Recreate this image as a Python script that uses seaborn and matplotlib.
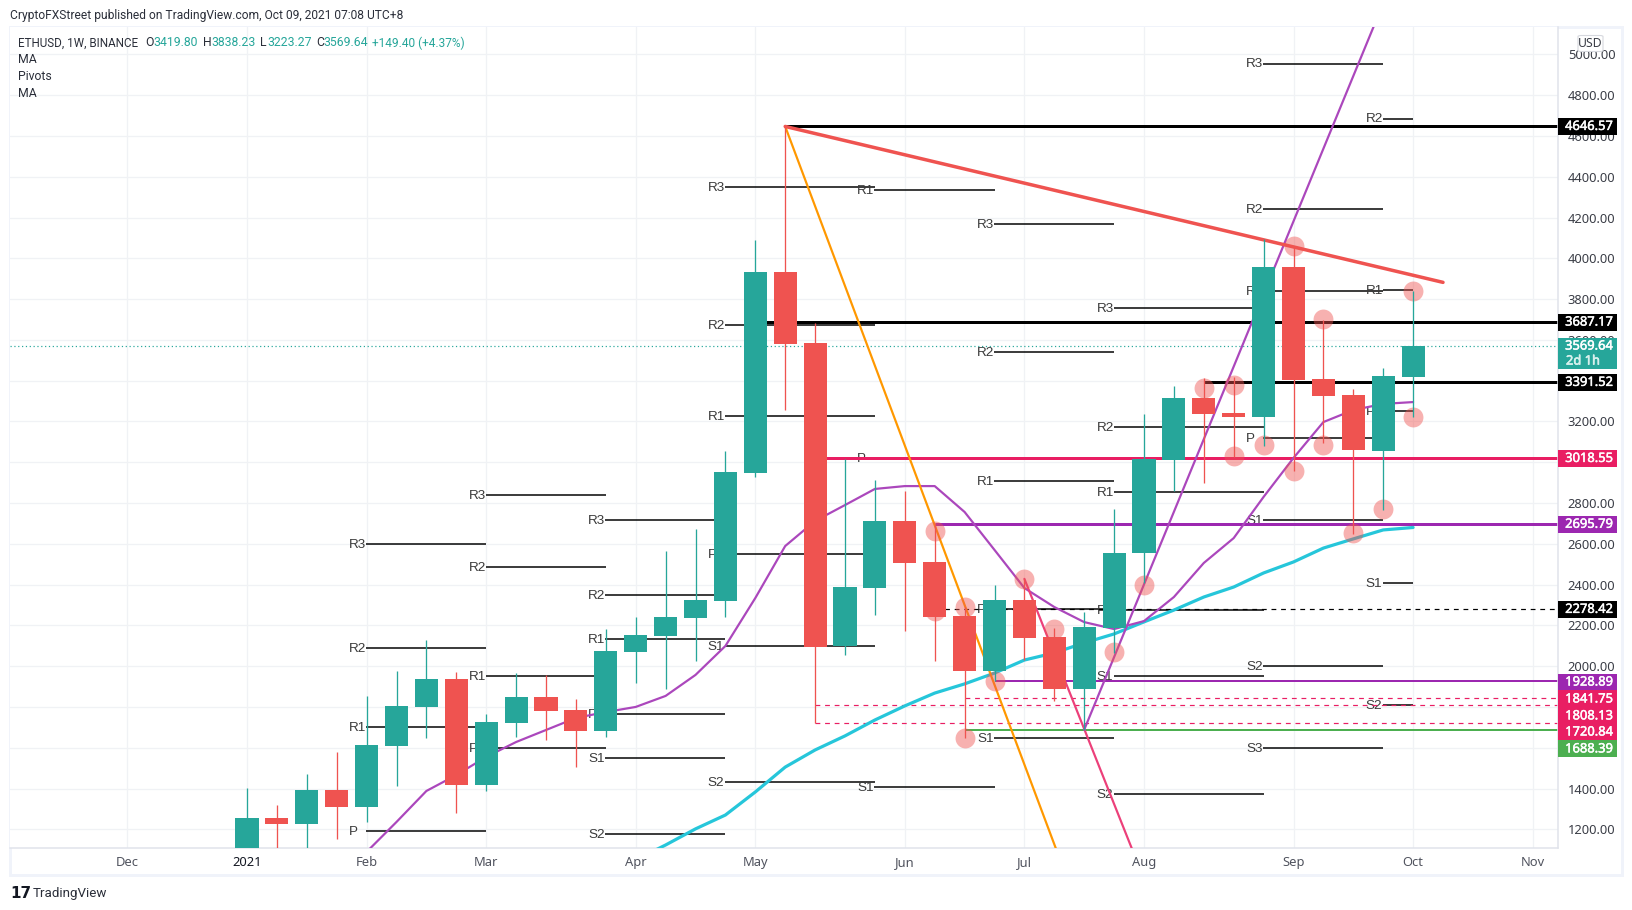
import matplotlib
matplotlib.use("Agg")
import matplotlib.pyplot as plt
import matplotlib.patheffects as pe
from matplotlib.patches import Rectangle, FancyBboxPatch
from matplotlib.transforms import blended_transform_factory
import numpy as np
import pandas as pd
import seaborn as sns

# ---- candle values (weekly, 2021) ----
opens = [975, 1255, 1226, 1393, 1309, 1608, 1800, 1937, 1417, 1721, 1849, 1785, 1682, 2069, 2148, 2236, 2320, 2947, 3933, 3585,
         2099, 2383, 2712, 2511, 2246, 1976, 2324, 2143, 1888, 2187, 2555, 3011, 3315, 3241, 3222, 3957, 3408, 3330, 3055, 3419.80]
closes = [1255, 1226, 1393, 1309, 1613, 1805, 1937, 1417, 1726, 1849, 1780, 1682, 2074, 2153, 2241, 2324, 2952, 3933, 3580, 2094,
          2388, 2712, 2506, 2241, 1976, 2324, 2138, 1888, 2192, 2555, 3016, 3315, 3236, 3222, 3957, 3403, 3325, 3060, 3423, 3569.64]
highs = [1401, 1319, 1471, 1579, 1854, 1976, 2128, 1971, 1765, 1966, 1957, 1839, 2182, 2241, 2565, 2673, 3055, 4090, 4645, 3683,
         3016, 2913, 2859, 2702, 2290, 2398, 2428, 2187, 2266, 2771, 3236, 3374, 3413, 3418, 4095, 4055, 3697, 3359, 3462, 3838.23]
lows = [890, 1050, 1070, 1152, 1236, 1412, 1648, 1280, 1388, 1653, 1638, 1505, 1653, 1918, 1888, 2025, 2241, 2928, 3256, 1721,
        2055, 2251, 2172, 2025, 1648, 1927, 2030, 1829, 1688, 2064, 2408, 2859, 2898, 3026, 3080, 2957, 3094, 2648, 2766, 3223.27]

# ---- moving averages ----
ma_short_weeks = list(range(4, 40))
ma_short = [1089, 1236, 1388, 1466, 1555, 1628, 1687, 1746, 1775, 1800, 1854, 1957, 2099, 2334, 2589, 2712, 2790, 2869, 2883, 2883,
            2756, 2570, 2383, 2290, 2216, 2182, 2221, 2339, 2506, 2628, 2830, 3021, 3197, 3256, 3286, 3295]
ma_long_weeks = list(range(13, 40))
ma_long = [1050, 1123, 1202, 1270, 1383, 1505, 1589, 1658, 1736, 1805, 1868, 1913, 1966, 2030, 2065, 2114, 2158, 2217, 2275, 2339, 2388,
           2457, 2511, 2579, 2624, 2668, 2680]

# ---- horizontal levels: price, first week, colour, width (px), dashed ----
level_prices = [4646.57, 3687.17, 3391.52, 3018.55, 2695.79, 2278.42, 1928.89, 1841.75, 1808.13, 1720.84, 1688.39]
level_starts = [18, 17, 32, 19, 23, 23, 25, 24, 19, 19, 24]
level_colors = ["#000000", "#000000", "#000000", "#E91E63", "#9C27B0", "#000000", "#9C27B0", "#E91E63", "#E91E63", "#E91E63", "#4CAF50"]
level_widths = [3, 3, 3, 3, 3, 1.2, 2, 1.2, 1.2, 1.2, 2]
level_dashed = [False, False, False, False, False, True, False, True, True, True, False]
# the scale stacks crowded tags, so a tag can sit away from its level
tag_positions = [4646.57, 3687.17, 3391.52, 3018.55, 2695.79, 2278.42, 1922, 1839, 1756, 1677, 1594]

# ---- trend lines ----
trend_orange_w, trend_orange_p = [18, 27.5], [4646.57, 931]
trend_red_w, trend_red_p = [18, 40], [4646.57, 3882]
trend_pink_w, trend_pink_p = [26, 30], [2428, 956]
trend_purple_w, trend_purple_p = [28, 38], [1688.39, 5250]

# ---- highlighted extremes ----
circle_weeks = [35, 39, 36, 32, 33, 39, 34, 36, 33, 35, 38, 37, 30, 29, 27, 26, 25, 24, 24, 23, 23]
circle_prices = [4060, 3840, 3702, 3364, 3379, 3222, 3084, 3084, 3030, 2957, 2771, 2653, 2398, 2070, 2182, 2428, 1927, 2290, 1648, 2663, 2270]

# ---- pivot blocks: first week, last week, labels, prices ----
pivot_blocks = [
    (4, 8, ["R3", "R2", "R1", "P"], [2599, 2089, 1702, 1192]),
    (8, 12, ["R3", "R2", "R1", "P"], [2839, 2486, 1952, 1599]),
    (12, 16, ["R3", "R2", "R1", "P", "S1", "S2"], [2717, 2349, 2133, 1765, 1550, 1177]),
    (16, 21, ["R3", "R2", "R1", "P", "S1", "S2"], [4350, 3673, 3227, 2550, 2099, 1432]),
    (21, 25, ["R1", "P", "S1"], [4335, 3021, 1407]),
    (25, 29, ["R3", "R2", "R1", "P", "S1"], [4168, 3540, 2908, 2280, 1648]),
    (29, 34, ["R3", "R2", "R1", "P", "S1", "S2"], [3756, 3173, 2854, 2275, 1952, 1373]),
    (34, 38, ["R3", "R2", "R1", "P", "S1", "S2", "S3"], [4955, 4242, 3840, 3119, 2717, 2001, 1599]),
    (38, 39, ["R2", "R1", "P", "S1", "S2"], [4685, 3845, 3251, 2408, 1810]),
]

# ---- axes ----
month_weeks = [-4, 0, 4, 8, 13, 17, 22, 26, 30, 35, 39, 43]
month_labels = ["Dec", "2021", "Feb", "Mar", "Apr", "May", "Jun", "Jul", "Aug", "Sep", "Oct", "Nov"]
price_ticks = list(range(1200, 5001, 200))
covered_ticks = [1600, 1800, 3000, 3400]  # fully under price tags in the reference

TEAL, RED = "#26A69A", "#EF5350"
W, H = 1632, 910
sns.set_theme(style="white")
plt.rcParams["font.family"] = ["Noto Sans", "DejaVu Sans"]

fig = plt.figure(figsize=(W / 100, H / 100), dpi=100, facecolor="white")
px = 0.72  # one pixel in points


def box(x0, y0, x1, y1):
    return [x0 / W, 1 - y1 / H, (x1 - x0) / W, (y1 - y0) / H]


ax = fig.add_axes(box(10, 27, 1558, 848))
ax.set_facecolor("white")
ax.set_xlim((10 - 247) / 29.9, (1558 - 247) / 29.9)
ax.set_ylim(1108.3, 5134.2)

# outer frame
fig.add_artist(Rectangle((10 / W, 1 - 875 / H), 1612 / W, 848 / H, transform=fig.transFigure,
                         fill=False, edgecolor="#F0F3FA", linewidth=3 * px, zorder=0))

for name, sp in ax.spines.items():
    sp.set_visible(name in ("right", "bottom"))
    sp.set_color("#E0E3EB")
    sp.set_linewidth(1.5 * px)

ax.set_xticks(month_weeks)
ax.set_xticklabels(month_labels)
ax.yaxis.tick_right()
ax.set_yticks(price_ticks)
ax.set_yticklabels(["" if p in covered_ticks else f"{p:.2f}" for p in price_ticks])
ax.tick_params(axis="x", length=0, pad=6, labelsize=9.3, labelcolor="#50535E")
ax.tick_params(axis="y", length=0, pad=7, labelsize=9.3, labelcolor="#3A3D46")
for lab in ax.get_xticklabels():
    if lab.get_text() == "2021":
        lab.set_color("#131722")
ax.grid(True, color="#F0F2F5", linewidth=1.3 * px)
ax.set_axisbelow(True)


def draw(xs, ys, color, width, zorder, **kw):
    sns.lineplot(x=xs, y=ys, ax=ax, color=color, linewidth=width * px, zorder=zorder,
                 estimator=None, legend=False, **kw)


# pivots: labels share a left edge, whatever their width
for first, last, names, values in pivot_blocks:
    ax.hlines(values, first - 0.02, last, color="#000000", linewidth=1.5 * px, zorder=2)
    for name, value in zip(names, values):
        ax.annotate(name, (first - 0.02, value), xytext=(-12.2, -0.5), textcoords="offset points",
                    ha="left", va="center", fontsize=9.7, family="Liberation Sans", color="#3a3a3a",
                    zorder=2, annotation_clip=True)

# levels
right_edge = ax.get_xlim()[1]
for price, start, color, width, dashed in zip(level_prices, level_starts, level_colors, level_widths, level_dashed):
    ax.hlines(price, start, right_edge, color=color, linewidth=width * px, zorder=2.5,
              linestyles=(0, (4, 4)) if dashed else "solid")
ax.hlines(closes[-1], ax.get_xlim()[0], right_edge, color=TEAL, linewidth=1.2 * px,
          linestyles=(0, (1, 2.2)), zorder=2.5)

# moving averages and trend lines
draw(ma_long_weeks, ma_long, "#26C6DA", 3.2, 3)
draw(ma_short_weeks, ma_short, "#AB47BC", 2.2, 3.1)
draw(trend_orange_w, trend_orange_p, "#FF9800", 2.2, 3.2)
draw(trend_pink_w, trend_pink_p, "#EC407A", 2.2, 3.2)
draw(trend_purple_w, trend_purple_p, "#AB47BC", 2.2, 3.2)
draw(trend_red_w, trend_red_p, RED, 3.5, 3.3)

# circles
sns.scatterplot(x=circle_weeks, y=circle_prices, ax=ax, color=RED, alpha=0.45, s=205, linewidth=0, zorder=4, legend=False)

# candles
candles = pd.DataFrame({"open": opens, "close": closes, "high": highs, "low": lows})
candles["week"] = np.arange(len(candles))
candles["color"] = np.where(candles["close"] >= candles["open"], TEAL, RED)
ax.vlines(candles["week"], candles["low"], candles["high"], color=candles["color"], linewidth=1.3 * px, zorder=5)
ax.bar(candles["week"], (candles["close"] - candles["open"]).abs(), bottom=candles[["open", "close"]].min(axis=1),
       width=0.77, color=candles["color"], linewidth=0, zorder=6)

# price tags on the scale
tag_trans = blended_transform_factory(ax.transAxes, ax.transData)
unit = 4.9036  # price units per pixel
tag_left = 1.0
tag_width = 59 / 1548
text_x = tag_left + 31 / 1548
ax_text = dict(transform=tag_trans, clip_on=False, zorder=12, ha="center", va="center", fontsize=9.3,
               family="Noto Sans", path_effects=[pe.withStroke(linewidth=0.35, foreground="white")])
for position, color, price in zip(tag_positions, level_colors, level_prices):
    ax.add_patch(Rectangle((tag_left, position - 8.5 * unit), tag_width, 17 * unit, transform=tag_trans,
                           facecolor=color, edgecolor="none", clip_on=False, zorder=11))
    ax.text(text_x, position, f"{price:.2f}", color="white", **ax_text)
ax.add_patch(Rectangle((tag_left, closes[-1] - 23 * unit), tag_width, 31 * unit, transform=tag_trans,
                       facecolor=TEAL, edgecolor="none", clip_on=False, zorder=11))
ax.text(text_x, closes[-1], f"{closes[-1]:.2f}", color="white", **ax_text)
ax.text(text_x - 6 / 1548, closes[-1] - 15 * unit, "2d 1h", color="#D5F0EC", **ax_text)

# USD button
fig.add_artist(FancyBboxPatch((1578 / W, 1 - 51.5 / H), 25 / W, 16 / H, transform=fig.transFigure,
                              boxstyle="round,pad=0,rounding_size=0.002", facecolor="white",
                              edgecolor="#D6D8DE", linewidth=0.8, zorder=20, mutation_aspect=H / W))
fig.text(1590.5 / W, 1 - 43.5 / H, "USD", ha="center", va="center", fontsize=8.8, color="#3A3D46", zorder=21)

# header and legend
UI = "Roboto"
fig.text(10 / W, 1 - 15.5 / H, "CryptoFXStreet published on TradingView.com, Oct 09, 2021 07:08 UTC+8",
         ha="left", va="center", fontsize=8.65, color="#2A2E39", family=UI)
legend_y = 1 - 43 / H
legend_items = [(18, "ETHUSD, 1W, BINANCE", "#2A2E39", 8.35), (145, "O", "#2A2E39", 8.8), (153, "3419.80", TEAL, 8.8),
                (203, "H", "#2A2E39", 8.8), (211, "3838.23", TEAL, 8.8), (260, "L", "#2A2E39", 8.8), (267, "3223.27", TEAL, 8.8),
                (316, "C", "#2A2E39", 8.8), (323, "3569.64", TEAL, 8.8), (372, "+149.40 (+4.37%)", TEAL, 8.6)]
for x, text, color, size in legend_items:
    fig.text(x / W, legend_y, text, ha="left", va="center", fontsize=size, color=color, family=UI)
for y, text in zip([59.5, 76, 93.5], ["MA", "Pivots", "MA"]):
    fig.text(18 / W, 1 - y / H, text, ha="left", va="center", fontsize=8.8, color="#2A2E39", family=UI)

# TradingView mark
fig.text(10 / W, 1 - 893 / H, "17", ha="left", va="center", fontsize=11, fontweight="bold", color="#131722", family="DejaVu Sans")
fig.text(33 / W, 1 - 894 / H, "TradingView", ha="left", va="center", fontsize=9.6, color="#2A2E39", family=UI)

fig.savefig("out.png", dpi=100, facecolor="white")
